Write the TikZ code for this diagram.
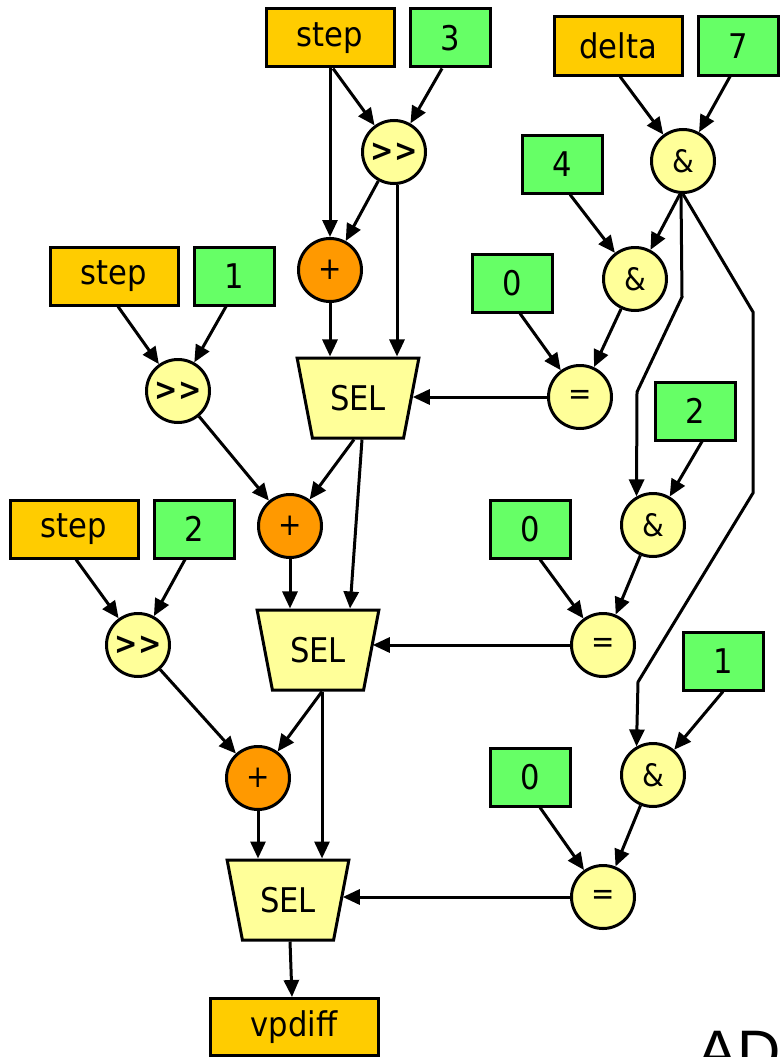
\documentclass[tikz,border=0pt]{standalone}
\usepackage{fontspec}
\setmainfont{DejaVu Sans Condensed}[Ligatures=ResetAll]
\newfontfamily\bigsans{Liberation Sans}
\usetikzlibrary{arrows.meta,shapes.geometric}
\definecolor{gold}{HTML}{FFCC00}
\definecolor{lime}{HTML}{66FF66}
\definecolor{pale}{HTML}{FFFF99}
\definecolor{orng}{HTML}{FF9900}
\newcommand{\shiftop}{\textbf{>\kern0.5pt>}}
\begin{document}
\begin{tikzpicture}[x=1pt,y=-1pt,
  base/.style={draw=black, line width=3pt, inner sep=0pt, text=black},
  varbox/.style={base, rectangle, fill=gold, minimum width=128pt, minimum height=58pt, font=\fontsize{34}{36}\selectfont},
  numbox/.style={base, rectangle, fill=lime, minimum width=80pt, minimum height=58pt, font=\fontsize{34}{36}\selectfont},
  op/.style={base, circle, fill=pale, minimum size=63pt, font=\fontsize{31}{34}\selectfont},
  addop/.style={base, circle, fill=orng, minimum size=63pt, font=\fontsize{31}{34}\selectfont},
  mux/.style={base, trapezium, trapezium angle=70, shape border rotate=180, fill=pale,
    minimum width=122pt, minimum height=80pt, trapezium stretches=true, font=\fontsize{34}{36}\selectfont},
  wire/.style={line width=3pt, -{Triangle[length=17pt,width=15pt]}}
]
\useasboundingbox (0,0) rectangle (780,1057);

% inputs and constants
\node[varbox] (stepA) at (330,38) {step};
\node[numbox] (c3) at (450,38) {3};
\node[varbox] (delta) at (618,46) {delta};
\node[numbox] (c7) at (738,46) {7};
\node[numbox] (c4) at (562,164) {4};
\node[varbox] (stepB) at (114,276) {step};
\node[numbox] (c1a) at (234,276) {1};
\node[numbox] (z1) at (512,283) {0};
\node[numbox] (c2b) at (695,411) {2};
\node[varbox] (stepC) at (74,529) {step};
\node[numbox] (c2a) at (194,529) {2};
\node[numbox] (z2) at (530,529) {0};
\node[numbox] (c1b) at (723,661) {1};
\node[numbox] (z3) at (530,777) {0};
\node[varbox, minimum width=168pt, minimum height=57pt] (out) at (294,1027) {vpdiff};

% operators
\node[op] (shA) at (394,152) {\shiftop};
\node[op] (andA) at (683,161) {\&};
\node[addop] (addA) at (330,270) {+};
\node[op] (andB) at (635,279) {\&};
\node[op] (shB) at (178,391) {\shiftop};
\node[mux] (selA) at (358,398) {SEL};
\node[op] (eqA) at (580,397) {=};
\node[addop] (addB) at (290,526) {+};
\node[op] (andC) at (653,525) {\&};
\node[op] (shC) at (138,645) {\shiftop};
\node[mux] (selB) at (318,650) {SEL};
\node[op] (eqB) at (603,645) {=};
\node[addop] (addC) at (258,778) {+};
\node[op] (andD) at (653,775) {\&};
\node[mux] (selC) at (288,900) {SEL};
\node[op] (eqC) at (603,897) {=};

% bends of the long wires on the right
\coordinate (k1) at (682,297);
\coordinate (k2) at (637,392);
\coordinate (k3) at (753,312);
\coordinate (k4) at (753,493);
\coordinate (k5) at (638,682);

% first stage
\draw[wire] (stepA.south) -- (stepA.south |- addA.north);
\draw[wire] ([xshift=3pt]stepA.south) -- (shA);
\draw[wire] ([xshift=-8pt]c3.south) -- (shA);
\draw[wire] (shA) -- (addA);
\draw[wire] ([xshift=3pt]shA.south) -- ([xshift=3pt]shA.south |- selA.north);
\draw[wire] (addA.south) -- (addA.south |- selA.north);
\draw[wire] ([xshift=2pt]delta.south) -- (andA);
\draw[wire] ([xshift=-8pt]c7.south) -- (andA);
\draw[wire] ([xshift=8pt]c4.south) -- (andB);
\draw[wire] ([xshift=-3pt]andA.south) -- (andB);
\draw[wire] ([xshift=8pt]z1.south) -- (eqA);
\draw[wire] (andB) -- (eqA);
\draw[wire] (eqA.west) -- (eqA.west -| selA.east);

% second stage
\draw[wire] ([xshift=4pt]stepB.south) -- (shB);
\draw[wire] ([xshift=-8pt]c1a.south) -- (shB);
\draw[wire] (shB) -- (addB);
\draw[wire] ([xshift=-4pt]selA.south) -- (addB);
\draw[wire] ([xshift=4pt]selA.south) -- ([xshift=32pt]selB.north);
\draw[wire] (addB.south) -- (addB.south |- selB.north);
\draw[wire] ([xshift=-2pt]andA.south) -- (k1) -- (k2) -- (andC.120);
\draw[wire] ([xshift=7pt]c2b.south) -- (andC);
\draw[wire] ([xshift=10pt]z2.south) -- (eqB);
\draw[wire] (andC) -- (eqB);
\draw[wire] (eqB.west) -- (eqB.west -| selB.east);

% third stage
\draw[wire] ([xshift=2pt]stepC.south) -- (shC);
\draw[wire] ([xshift=-9pt]c2a.south) -- (shC);
\draw[wire] (shC) -- (addC);
\draw[wire] ([xshift=4pt]selB.south) -- (addC);
\draw[wire] ([xshift=4pt]selB.south) -- ([xshift=34pt]selC.north);
\draw[wire] (addC.south) -- (addC.south |- selC.north);
\draw[wire] (andA.south) -- (k3) -- (k4) -- (k5) -- (andD.120);
\draw[wire] (c1b.south) -- (andD);
\draw[wire] ([xshift=10pt]z3.south) -- (eqC);
\draw[wire] (andD) -- (eqC);
\draw[wire] (eqC.west) -- (eqC.west -| selC.east);
\draw[wire] ([xshift=2pt]selC.south) -- ([xshift=-2pt]out.north);

% heading running off the lower edge
\node[anchor=base west, inner sep=0pt, font=\bigsans\fontsize{60}{66}\selectfont] (title) at (697,1072) {AD};
\end{tikzpicture}
\end{document}
